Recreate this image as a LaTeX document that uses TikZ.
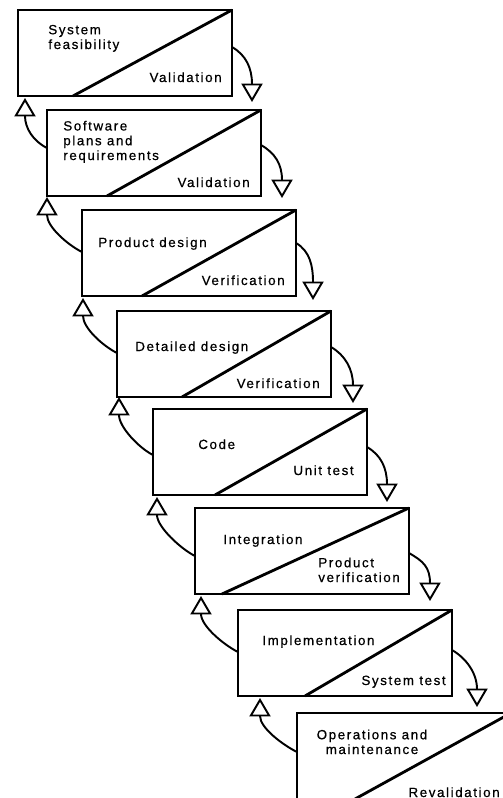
\documentclass[tikz,border=0pt]{standalone}
\usepackage{fontspec}
\setmainfont{Liberation Sans}[LetterSpace=12,FakeBold=0.6]
\usetikzlibrary{arrows.meta,calc}
\begin{document}
\begin{tikzpicture}[x=0.02cm,y=-0.02cm,
  stage/.style={draw, line width=1.1pt, minimum width=4.28cm, minimum height=1.72cm,
    inner sep=0pt, outer sep=0pt, anchor=north west},
  diag/.style={line width=1.6pt},
  flow/.style={line width=1.1pt, -{Triangle[open,length=10.5pt,width=12pt]}},
  lbl/.style={font=\fontsize{7.6}{8.4}\selectfont, inner sep=0pt, align=left}]
\useasboundingbox (0,0) rectangle (503,798);

% stage boxes, each split by a diagonal
\node[stage] (b1) at (18,10) {};
\node[stage] (b2) at (47,110) {};
\node[stage] (b3) at (82,210) {};
\node[stage] (b4) at (117,311) {};
\node[stage] (b5) at (153,409) {};
\node[stage] (b6) at (195,508) {};
\node[stage] (b7) at (238,610) {};
\node[stage] (b8) at (297,713) {};

\draw[diag] ($(b1.south west)+(55,0)$) -- (b1.north east);
\draw[diag] ($(b2.south west)+(60,0)$) -- (b2.north east);
\draw[diag] ($(b3.south west)+(60,0)$) -- (b3.north east);
\draw[diag] ($(b4.south west)+(65,0)$) -- (b4.north east);
\draw[diag] ($(b5.south west)+(62,0)$) -- (b5.north east);
\draw[diag] ($(b6.south west)+(27,0)$) -- (b6.north east);
\draw[diag] ($(b7.south west)+(67,0)$) -- (b7.north east);
\draw[diag] ($(b8.south west)+(58,0)$) -- (b8.north east);

% stage names and their checks (base = baseline of the last line)
\node[lbl, anchor=base west] (n1) at (48,49) {System\\feasibility};
\node[lbl, anchor=base east] (c1) at (222,82) {Validation};
\node[lbl, anchor=base west] (n2) at (63,160) {Software\\plans and\\requirements};
\node[lbl, anchor=base east] (c2) at (250,187) {Validation};
\node[lbl, anchor=base west] (n3) at (98,247) {Product design};
\node[lbl, anchor=base east] (c3) at (285,285) {Verification};
\node[lbl, anchor=base west] (n4) at (135,351) {Detailed design};
\node[lbl, anchor=base east] (c4) at (320,388) {Verification};
\node[lbl, anchor=base west] (n5) at (198,449) {Code};
\node[lbl, anchor=base east] (c5) at (354,475) {Unit test};
\node[lbl, anchor=base west] (n6) at (223,544) {Integration};
\node[lbl, anchor=base west] (c6) at (318,582) {Product\\verification};
\node[lbl, anchor=base west] (n7) at (262,645) {Implementation};
\node[lbl, anchor=base east] (c7) at (446,685) {System test};
\node[lbl, anchor=base, align=center] (n8) at (372,754) {Operations and\\maintenance};
\node[lbl, anchor=base east] (c8) at (500,797) {Revalidation};

% arrow tips: forward (down, right side) and back (up, left side)
\coordinate (f1) at (252,102);
\coordinate (f2) at (282,198);
\coordinate (f3) at (313,300);
\coordinate (f4) at (353,403);
\coordinate (f5) at (387,502);
\coordinate (f6) at (430,601);
\coordinate (f7) at (477,707);

\coordinate (r1) at (25,98);
\coordinate (r2) at (47,197);
\coordinate (r3) at (83,298);
\coordinate (r4) at (119,397);
\coordinate (r5) at (157,497);
\coordinate (r6) at (201,596);
\coordinate (r7) at (260,698);

% forward arrows
\foreach \i/\dy in {1/37,2/35,3/33,4/36,5/38,6/45,7/40}{
  \draw[flow] ($(b\i.north east)+(0,\dy)$) coordinate (s\i)
    .. controls ($(s\i)+(14,8)$) and ($(f\i)+(0,-34)$) .. (f\i);
}

% backward arrows
\foreach \j/\i/\dy in {2/1/38,3/2/42,4/3/42,5/4/46,6/5/48,7/6/42,8/7/39}{
  \draw[flow] ($(b\j.north west)+(0,\dy)$) coordinate (e\i)
    .. controls ($(e\i)+(-14,-7)$) and ($(r\i)+(0,30)$) .. (r\i);
}
\end{tikzpicture}
\end{document}
